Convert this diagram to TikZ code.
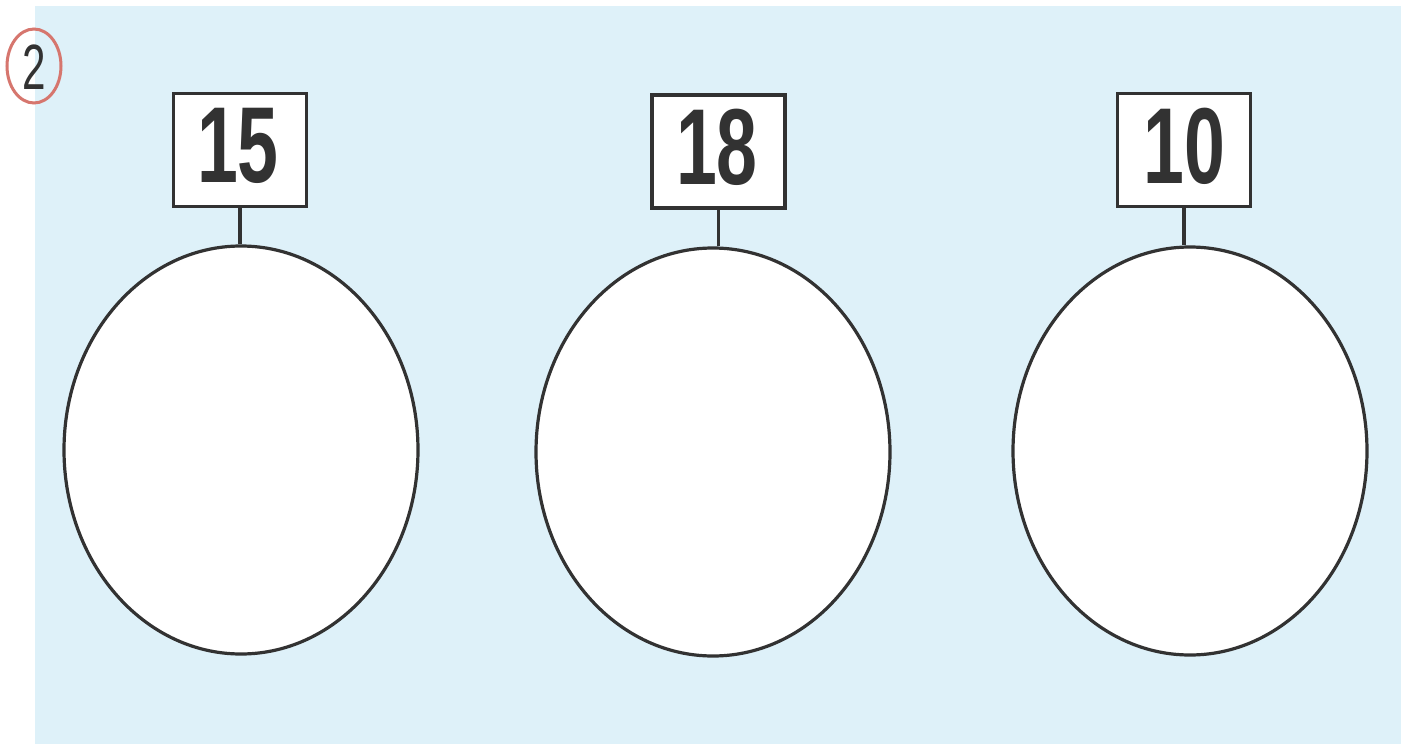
\documentclass[tikz,border=0pt]{standalone}
\usepackage{fontspec}
\setmainfont{Liberation Sans}
\usetikzlibrary{shapes.geometric}
\definecolor{bgblue}{RGB}{222,241,249}
\definecolor{ink}{RGB}{50,50,50}
\definecolor{ringred}{RGB}{214,118,110}
\tikzset{
  numbox/.style={draw=ink, line width=3.6pt, fill=white, minimum width=133pt, minimum height=113pt, inner sep=0pt, text=ink},
  oval/.style={draw=ink, line width=3.2pt, fill=white, ellipse, minimum width=354pt, minimum height=408pt, inner sep=0pt},
  stem/.style={draw=ink, line width=3.2pt},
  ring/.style={ellipse, draw=ringred, line width=3pt, minimum width=54pt, minimum height=74pt, inner sep=0pt},
}
\newcommand{\bignum}[1]{\scalebox{0.68}[1]{\fontsize{108}{110}\selectfont\bfseries #1}}
\newcommand{\ringnum}[1]{\scalebox{0.66}[1]{\fontsize{64}{66}\selectfont #1}}
\begin{document}
\begin{tikzpicture}[x=1pt,y=-1pt]
\useasboundingbox (0,0) rectangle (1408,744);
\fill[white] (0,0) rectangle (1408,744);
\fill[bgblue] (35,6) rectangle (1401,744);
% exercise number
\node[ring] (ring) at (34,66) {};
\node[text=ink, inner sep=0pt] (two) at (34,67) {\ringnum{2}};
% boxes
\node[numbox] (b1) at (240,150) {};
\node[numbox] (b2) at (718.5,151.5) {};
\node[numbox] (b3) at (1184,150) {};
\node[text=ink, inner sep=0pt] (t1) at (238,146) {\bignum{15}};
\node[text=ink, inner sep=0pt] (t2) at (717,147) {\bignum{18}};
\node[text=ink, inner sep=0pt] (t3) at (1184,146) {\bignum{10}};
% ovals
\node[oval] (e1) at (241,450) {};
\node[oval] (e2) at (713,452) {};
\node[oval] (e3) at (1190,451) {};
% stems
\draw[stem] (b1.south) -- (b1.south |- e1.north);
\draw[stem] (b2.south) -- (b2.south |- e2.north);
\draw[stem] (b3.south) -- (b3.south |- e3.north);
\end{tikzpicture}
\end{document}
